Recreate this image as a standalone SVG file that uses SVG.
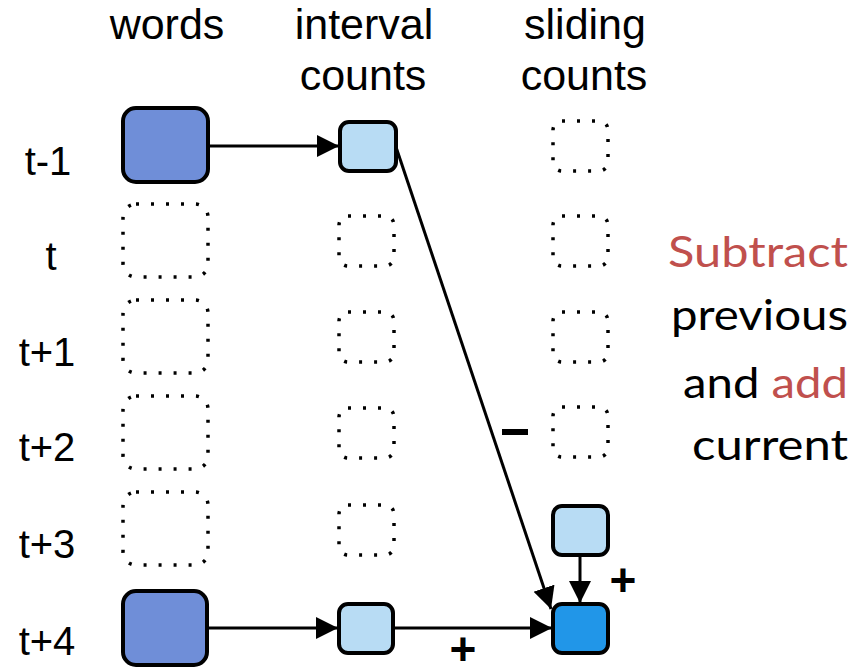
<svg xmlns="http://www.w3.org/2000/svg" width="860" height="669" viewBox="0 0 860 669">
  <style>
    .hdr { font-family: "Liberation Sans", Arial, sans-serif; font-size: 43px; fill: #000; text-anchor: middle; }
    .row { font-family: "Liberation Sans", Arial, sans-serif; font-size: 40px; fill: #000; text-anchor: middle; }
    .sign { font-family: "Liberation Sans", Arial, sans-serif; font-size: 46px; font-weight: bold; fill: #000; text-anchor: middle; }
    .note { font-family: "Lato", "Open Sans", sans-serif; font-size: 43px; fill: #000; text-anchor: end; }
    .red { fill: #c0504d; }
    .word { fill: #6f8ed8; stroke: #000; stroke-width: 4; }
    .cnt { fill: #b8dcf4; stroke: #000; stroke-width: 4; }
    .cur { fill: #2196e8; stroke: #000; stroke-width: 4; }
    .empty { fill: none; stroke: #000; stroke-width: 3.5; stroke-dasharray: 3 12; }
    .edge { fill: none; stroke: #000; stroke-width: 3; }
  </style>
  <defs>
    <marker id="head" viewBox="0 0 10 10" refX="10" refY="5" markerUnits="userSpaceOnUse" markerWidth="22" markerHeight="23" orient="auto">
      <path d="M0,0 L10,5 L0,10 z" fill="#000"/>
    </marker>
  </defs>

  <!-- column headers -->
  <text class="hdr" x="167" y="39">words</text>
  <text class="hdr" x="364" y="39">interval</text>
  <text class="hdr" x="363" y="90">counts</text>
  <text class="hdr" x="585" y="39">sliding</text>
  <text class="hdr" x="584" y="90">counts</text>

  <!-- row labels -->
  <text class="row" x="48" y="175">t-1</text>
  <text class="row" x="51" y="270">t</text>
  <text class="row" x="47" y="366">t+1</text>
  <text class="row" x="47" y="461">t+2</text>
  <text class="row" x="47" y="558">t+3</text>
  <text class="row" x="47" y="655">t+4</text>

  <!-- words column -->
  <g id="words-t-1"><rect class="word" x="123" y="108" width="85" height="74" rx="13"/></g>
  <g id="words-t"><rect class="empty" x="123" y="204" width="85" height="73" rx="13"/></g>
  <g id="words-t1"><rect class="empty" x="123" y="300" width="85" height="73" rx="13"/></g>
  <g id="words-t2"><rect class="empty" x="123" y="396" width="85" height="73" rx="13"/></g>
  <g id="words-t3"><rect class="empty" x="123" y="492" width="85" height="73" rx="13"/></g>
  <g id="words-t4"><rect class="word" x="123" y="591" width="84" height="74" rx="13"/></g>

  <!-- interval counts column -->
  <g id="interval-t-1"><rect class="cnt" x="340" y="122" width="56" height="49" rx="9"/></g>
  <g id="interval-t"><rect class="empty" x="339" y="216" width="55" height="50" rx="9"/></g>
  <g id="interval-t1"><rect class="empty" x="339" y="312" width="55" height="50" rx="9"/></g>
  <g id="interval-t2"><rect class="empty" x="339" y="408" width="55" height="50" rx="9"/></g>
  <g id="interval-t3"><rect class="empty" x="339" y="505" width="55" height="50" rx="9"/></g>
  <g id="interval-t4"><rect class="cnt" x="339" y="604" width="54" height="49" rx="9"/></g>

  <!-- sliding counts column -->
  <g id="sliding-t-1"><rect class="empty" x="553" y="121" width="55" height="50" rx="9"/></g>
  <g id="sliding-t"><rect class="empty" x="553" y="216" width="55" height="50" rx="9"/></g>
  <g id="sliding-t1"><rect class="empty" x="553" y="312" width="55" height="50" rx="9"/></g>
  <g id="sliding-t2"><rect class="empty" x="553" y="407" width="55" height="50" rx="9"/></g>
  <g id="sliding-t3"><rect class="cnt" x="553" y="506" width="55" height="49" rx="9"/></g>
  <g id="sliding-t4"><rect class="cur" x="553" y="604" width="55" height="49" rx="9"/></g>

  <!-- connectors -->
  <g id="connectors">
    <line class="edge" x1="208" y1="146" x2="339" y2="146" marker-end="url(#head)"/>
    <line class="edge" x1="207" y1="628" x2="338" y2="628" marker-end="url(#head)"/>
    <line class="edge" x1="393" y1="628" x2="552" y2="628" marker-end="url(#head)"/>
    <line class="edge" x1="396" y1="147" x2="551" y2="609" marker-end="url(#head)"/>
    <line class="edge" x1="580" y1="555" x2="580" y2="603" marker-end="url(#head)"/>
  </g>

  <!-- operation signs -->
  <rect x="502" y="429" width="26" height="6" fill="#000"/>
  <text class="sign" x="463" y="665">+</text>
  <text class="sign" x="623" y="596">+</text>

  <!-- side note -->
  <text class="note red" x="848" y="267" textLength="180" lengthAdjust="spacingAndGlyphs">Subtract</text>
  <text class="note" x="848" y="330" textLength="177" lengthAdjust="spacingAndGlyphs">previous</text>
  <text class="note" x="848" y="398" textLength="165" lengthAdjust="spacingAndGlyphs">and <tspan class="red">add</tspan></text>
  <text class="note" x="848" y="460" textLength="156" lengthAdjust="spacingAndGlyphs">current</text>
</svg>
